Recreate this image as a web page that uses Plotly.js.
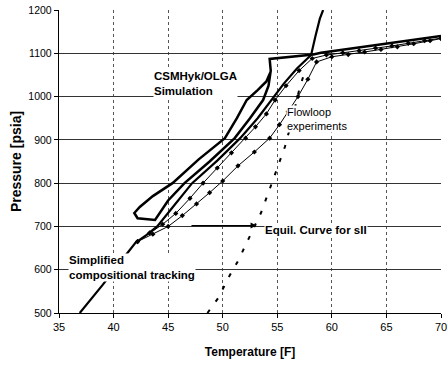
<!DOCTYPE html>
<html>
<head>
<meta charset="utf-8">
<script src="https://cdn.plot.ly/plotly-3.0.1.min.js"></script>
<style>html,body{margin:0;padding:0;background:#fff;}#chart{width:448px;height:366px;}</style>
</head>
<body>
<div id="chart"></div>
<script>
// Temperature ticks and pressure ticks
const tempTicks = [35, 40, 45, 50, 55, 60, 65, 70];
const presTicks = [500, 600, 700, 800, 900, 1000, 1100, 1200];

// CSMHyk/OLGA simulation (thick, with loop)
const csmT = [70, 66, 62, 59, 58.3, 56.2, 54.3, 54.4, 54.2, 53.7, 52.5, 51.1, 48.8, 46.5, 45.0, 43.8, 42.2, 41.9, 42.4, 43.6, 45.4, 47.8, 50.2, 51.3, 52.2, 53.2, 54.0, 54.35];
const csmP = [1140, 1126, 1112, 1101, 1097, 1092, 1087, 1060, 1025, 992, 950, 904, 850, 800, 760, 715, 719, 731, 745, 770, 800, 855, 904, 950, 992, 1015, 1035, 1055];

// Simplified compositional tracking (thick)
const simpT = [36.9, 39.0, 41.0, 42.0, 43.0, 44.0, 45.6, 47.2, 49.5, 51.6, 53.2, 54.5, 55.6, 56.8, 58.1, 58.5, 58.9, 59.2];
const simpP = [500, 565, 630, 662, 680, 700, 750, 800, 852, 904, 950, 992, 1030, 1065, 1096, 1140, 1180, 1200];

// Flowloop experiments (thin with markers)
const flow1T = [42.2, 43.3, 44.5, 45.7, 47.0, 48.2, 49.5, 50.8, 52.1, 53.0, 54.0, 54.8, 55.8, 57.0, 58.2, 59.5, 61, 62.5, 64, 65.5, 67, 68.5, 70];
const flow1P = [665, 685, 705, 730, 765, 800, 835, 870, 904, 930, 960, 992, 1025, 1060, 1088, 1096, 1101, 1106, 1112, 1117, 1123, 1129, 1135];
const flow2T = [42.2, 43.6, 45.0, 46.3, 47.6, 48.8, 50.0, 51.4, 52.9, 54.3, 55.2, 56.0, 56.9, 57.8, 58.6, 60, 61.5, 63, 64.5, 66, 67.5, 69, 70];
const flow2P = [665, 682, 700, 725, 752, 778, 805, 840, 872, 904, 935, 965, 1000, 1040, 1080, 1092, 1097, 1103, 1109, 1115, 1122, 1129, 1134];

// Equilibrium curve for sII (dotted)
const eqT = [48.6, 49.6, 50.6, 51.4, 52.4, 53.5, 54.4, 55.1, 55.7, 56.4, 57.0, 57.6];
const eqP = [500, 535, 585, 620, 673, 731, 793, 840, 884, 950, 1015, 1065];

const FONT = 'Liberation Sans, Arial, sans-serif';

const traces = [
  {x: eqT, y: eqP, mode: 'lines', line: {color: '#000', width: 2, dash: '4px,10px'}, hoverinfo: 'skip'},
  {x: flow1T, y: flow1P, mode: 'lines+markers', line: {color: '#000', width: 1}, marker: {symbol: 'diamond', size: 4, color: '#000'}},
  {x: flow2T, y: flow2P, mode: 'lines+markers', line: {color: '#000', width: 1}, marker: {symbol: 'diamond', size: 4, color: '#000'}},
  {x: simpT, y: simpP, mode: 'lines', line: {color: '#000', width: 2.2}},
  {x: csmT, y: csmP, mode: 'lines', line: {color: '#000', width: 2.5}}
];

const layout = {
  width: 448, height: 366,
  margin: {l: 59, r: 7, t: 10, b: 53},
  paper_bgcolor: '#fff', plot_bgcolor: '#fff',
  showlegend: false,
  font: {family: FONT, color: '#000', size: 10.5},
  xaxis: {
    range: [35, 70], tickvals: tempTicks, ticktext: tempTicks.map(String),
    showgrid: true, gridcolor: '#555', gridwidth: 1, griddash: 'dot',
    showline: true, linecolor: '#000', linewidth: 1.2,
    ticks: 'outside', ticklen: 4, tickcolor: '#000',
    zeroline: false,
    tickfont: {family: FONT, size: 11, color: '#000'},
    title: {text: '<b>Temperature [F]</b>', font: {family: FONT, size: 12, color: '#000'}, standoff: 15}
  },
  yaxis: {
    range: [500, 1200], tickvals: presTicks, ticktext: presTicks.map(String),
    showgrid: true, gridcolor: '#333', gridwidth: 1,
    showline: true, linecolor: '#000', linewidth: 1.2,
    ticks: 'outside', ticklen: 4, tickcolor: '#000',
    zeroline: false,
    tickfont: {family: FONT, size: 10.5, color: '#000'},
    title: {text: '<b>Pressure [psia]</b>', font: {family: FONT, size: 14, color: '#000'}, standoff: 3}
  },
  annotations: [
    {x: 43.6, y: 1031, xref: 'x', yref: 'y', xanchor: 'left', yanchor: 'middle', align: 'left', showarrow: false,
     text: '<b>CSMHyk/OLGA</b><br><b>Simulation</b>', font: {family: FONT, size: 11.5, color: '#000'}, bgcolor: '#fff', borderpad: 0},
    {x: 55.8, y: 949, xref: 'x', yref: 'y', xanchor: 'left', yanchor: 'middle', align: 'left', showarrow: false,
     text: 'Flowloop<br>experiments', font: {family: FONT, size: 11, color: '#000'}, bgcolor: '#fff', borderpad: 0},
    {x: 53.8, y: 692, xref: 'x', yref: 'y', xanchor: 'left', yanchor: 'middle', align: 'left', showarrow: false,
     text: '<b>Equil. Curve for sII</b>', font: {family: FONT, size: 11.5, color: '#000'}, bgcolor: '#fff', borderpad: 0},
    {x: 35.8, y: 604, xref: 'x', yref: 'y', xanchor: 'left', yanchor: 'middle', align: 'left', showarrow: false,
     text: '<b>Simplified</b><br><b>compositional tracking</b>', font: {family: FONT, size: 11.5, color: '#000'}, bgcolor: '#fff', borderpad: 0},
    {x: 53.1, y: 702, ax: 47, ay: 702, xref: 'x', yref: 'y', axref: 'x', ayref: 'y', text: '', showarrow: true,
     arrowhead: 2, arrowsize: 1, arrowwidth: 1.2, arrowcolor: '#000'}
  ]
};

Plotly.newPlot('chart', traces, layout, {displayModeBar: false, staticPlot: true});
</script>
</body>
</html>
